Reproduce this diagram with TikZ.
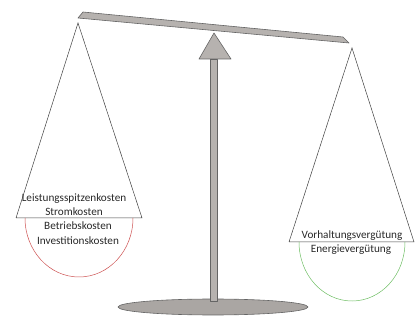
\documentclass[tikz,border=0pt]{standalone}
\usepackage{fontspec}
\setmainfont{Carlito}
\definecolor{metal}{RGB}{182,178,175}
\definecolor{metaldark}{RGB}{170,166,163}
\definecolor{edge}{RGB}{100,100,100}
\definecolor{txt}{RGB}{40,40,40}
\definecolor{costred}{RGB}{205,80,80}
\definecolor{gaingreen}{RGB}{110,190,100}
\begin{document}
\begin{tikzpicture}[x=1pt,y=-1pt,
  part/.style={fill=metal,draw=edge,line width=0.6pt,line join=round},
  rope/.style={draw=black!75,line width=0.5pt},
  lbl/.style={font=\fontsize{11.2}{12}\selectfont,text=txt,inner sep=0pt,anchor=base}]
\useasboundingbox (0,0) rectangle (418,323);
% base plate
\draw[part,fill=metaldark] (213,307) ellipse [x radius=95, y radius=8];
% post
\draw[part] (210,59) rectangle (217,301);
% pivot triangle
\draw[part] (214,33) -- (231,59) -- (199,59) -- cycle;
% beam
\draw[part] (83,12) -- (343,37) -- (349,43) -- (78,18) -- cycle;
% left pan
\coordinate (la) at (78,23);
\coordinate (ll) at (16,218);
\coordinate (lr) at (142,218);
\draw[rope] (ll) -- (la) -- (lr) -- (ll);
\draw[costred,line width=0.5pt] (25,218) arc[start angle=180,end angle=0,x radius=54,y radius=59];
% right pan
\coordinate (ra) at (352,48);
\coordinate (rl) at (289,242);
\coordinate (rr) at (414,242);
\draw[rope] (rl) -- (ra) -- (rr) -- (rl);
\draw[gaingreen,line width=0.5pt] (299,242) arc[start angle=180,end angle=0,x radius=53,y radius=59];
% texts
\node[lbl] (t1) at (74,202) {Leistungsspitzenkosten};
\node[lbl] (t2) at (74,216) {Stromkosten};
\node[lbl] (t3) at (78,230) {Betriebskosten};
\node[lbl] (t4) at (78,245) {Investitionskosten};
\node[lbl] (t5) at (352,239) {Vorhaltungsvergütung};
\node[lbl] (t6) at (351,253) {Energievergütung};
\end{tikzpicture}
\end{document}
